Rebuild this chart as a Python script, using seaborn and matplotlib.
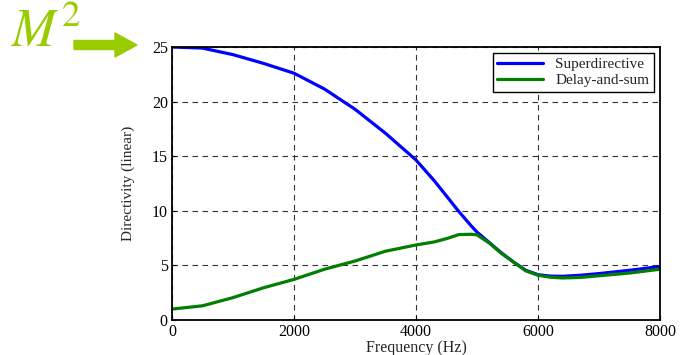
import matplotlib
matplotlib.use("Agg")
import matplotlib.pyplot as plt
from matplotlib.patches import FancyArrow
import seaborn as sns
import pandas as pd

freq = [0, 500, 1000, 1500, 2000, 2500, 3000, 3500, 4000, 4300, 4500, 4700, 4900,
        5000, 5200, 5400, 5600, 5800, 6000, 6200, 6400, 6700, 7000, 7500, 8000]
superdirective = [25.0, 24.9, 24.3, 23.5, 22.6, 21.15, 19.3, 17.1, 14.65, 12.75, 11.35, 9.95, 8.65,
                  8.05, 7.1, 6.15, 5.3, 4.55, 4.15, 4.02, 4.0, 4.1, 4.25, 4.55, 4.9]
delay_and_sum = [1.0, 1.3, 2.05, 2.95, 3.72, 4.65, 5.4, 6.3, 6.87, 7.15, 7.45, 7.82, 7.85,
                 7.8, 7.05, 6.1, 5.3, 4.5, 4.1, 3.92, 3.85, 3.9, 4.05, 4.3, 4.65]
series_names = ["Superdirective", "Delay-and-sum"]
x_ticks = [0, 2000, 4000, 6000, 8000]
y_ticks = [0, 5, 10, 15, 20, 25]

df = pd.concat([
    pd.DataFrame({"Frequency": freq, "Directivity": superdirective, "Series": series_names[0]}),
    pd.DataFrame({"Frequency": freq, "Directivity": delay_and_sum, "Series": series_names[1]}),
])

sns.set_theme(style="white")
plt.rcParams["font.family"] = ["Liberation Serif", "DejaVu Serif"]
plt.rcParams["mathtext.fontset"] = "stix"

fig = plt.figure(figsize=(6.82, 3.55), dpi=100)
ax = fig.add_axes([172/682, 35/355, 488/682, 273/355])

sns.lineplot(data=df, x="Frequency", y="Directivity", hue="Series",
             palette={"Superdirective": "#0000ff", "Delay-and-sum": "#007f00"},
             linewidth=2.3, ax=ax, sort=False)

ax.set_xlim(0, 8000)
ax.set_ylim(0, 25)
ax.set_xticks(x_ticks)
ax.set_yticks(y_ticks)
ax.tick_params(direction="in", length=3, width=0.8, labelsize=11.5, colors="black",
               left=True, bottom=True, pad=3)
ax.grid(True, color="#333333", linestyle=(0, (5, 4)), linewidth=0.8)
for s in ax.spines.values():
    s.set_color("black")
    s.set_linewidth(1.3)
ax.set_xlabel("Frequency (Hz)", fontsize=11.5, labelpad=0)
ax.set_ylabel("Directivity (linear)", fontsize=11, labelpad=12)

leg = ax.legend(loc="upper right", fontsize=11, frameon=True, fancybox=False,
                edgecolor="black", borderaxespad=0.4, handlelength=3.0,
                borderpad=0.3, labelspacing=0.15, handletextpad=0.8)
leg.get_frame().set_linewidth(1.0)
leg.get_frame().set_alpha(1)

fig.text(11/682, 1 - 47/355, r"$M^2$", color="#99cc00", fontsize=38,
         ha="left", va="baseline")
arrow = FancyArrow(0.74, (355 - 45) / 100, 0.63, 0, width=0.09, head_width=0.24,
                   head_length=0.22, length_includes_head=True,
                   color="#99cc00", transform=fig.dpi_scale_trans)
fig.patches.append(arrow)

fig.savefig("out.png", dpi=100)
